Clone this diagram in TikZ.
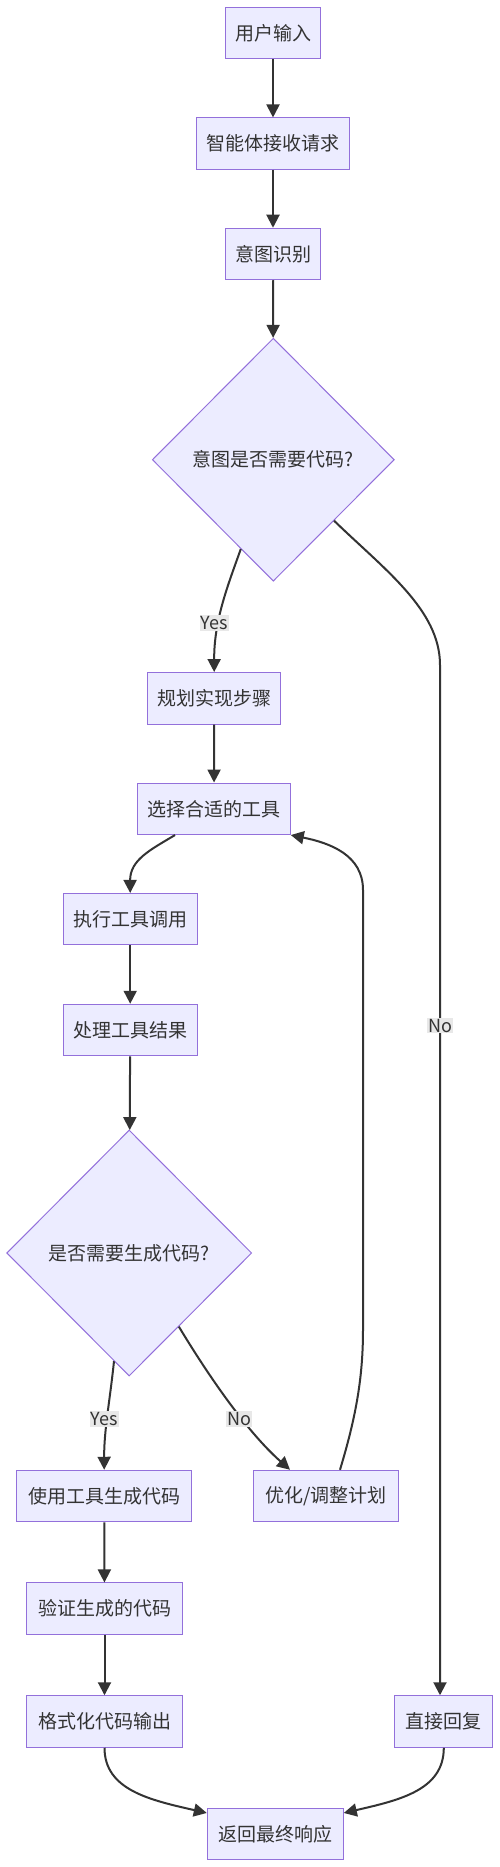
\documentclass[tikz,border=0pt]{standalone}
\usepackage{fontspec}
\setmainfont{Noto Sans CJK SC}
\usetikzlibrary{arrows.meta,shapes.geometric}
\definecolor{boxfill}{HTML}{ECECFF}
\definecolor{boxline}{HTML}{9370DB}
\definecolor{edgec}{HTML}{333333}
\definecolor{txt}{HTML}{333333}
\definecolor{lblbg}{HTML}{E8E8E8}
\begin{document}
\begin{tikzpicture}[x=1pt,y=-1pt,
  box/.style={draw=boxline, fill=boxfill, line width=1pt, minimum height=51.5pt, inner sep=0pt, font=\fontsize{19}{22}\selectfont, text=txt},
  dia/.style={diamond, draw=boxline, fill=boxfill, line width=1pt, inner sep=0pt, font=\fontsize{19}{22}\selectfont, text=txt},
  conn/.style={draw=edgec, line width=2pt, -{Triangle[length=13pt,width=13pt]}},
  lbl/.style={fill=lblbg, text=txt, inner sep=1pt, font=\fontsize{18}{20}\selectfont}]
\useasboundingbox (0,0) rectangle (500,1867);
\fill[white] (0,0) rectangle (500,1867);

\node[box, minimum width=95pt] (u1) at (273,33) {用户输入};
\node[box, minimum width=152.6pt] (u2) at (273,143.7) {智能体接收请求};
\node[box, minimum width=95pt] (u3) at (273,254) {意图识别};
\node[dia, minimum width=242pt, minimum height=243pt] (d1) at (273.3,459.7) {意图是否需要代码?};
\node[box, minimum width=133pt] (p1) at (214.2,698.3) {规划实现步骤};
\node[box, minimum width=152.6pt] (p2) at (214,808.8) {选择合适的工具};
\node[box, minimum width=134.3pt] (p3) at (130.2,919.2) {执行工具调用};
\node[box, minimum width=134.3pt] (p4) at (130.2,1030) {处理工具结果};
\node[dia, minimum width=245pt, minimum height=246pt] (d2) at (129.2,1253) {是否需要生成代码?};
\node[box, minimum width=175pt] (g1) at (104.2,1496) {使用工具生成代码};
\node[box, minimum width=145.4pt] (o1) at (326,1496) {优化/调整计划};
\node[box, minimum width=155.6pt] (g2) at (104.5,1608.7) {验证生成的代码};
\node[box, minimum width=155.6pt] (g3) at (104.5,1721.5) {格式化代码输出};
\node[box, minimum width=97.7pt] (r1) at (443.8,1721.5) {直接回复};
\node[box, minimum width=136pt] (fin) at (275.3,1834.2) {返回最终响应};

\draw[conn] (u1) -- (u2);
\draw[conn] (u2) -- (u3);
\draw[conn] (u3) -- (d1);
\draw[conn] (d1.250.5) .. controls (228,585) and (214,620) .. (p1.north);
\draw[conn] (d1.south east) .. controls (385,570) and (440,610) .. (440,665) -- (r1.north -| 440,0);
\draw[conn] (p1) -- (p2);
\draw[conn] ([xshift=-39pt]p2.south) .. controls (150,850) and (130,860) .. (p3.north);
\draw[conn] (p3) -- (p4);
\draw[conn] (p4) -- (d2);
\draw[conn] (d2.262) .. controls (110,1400) and (104,1430) .. (g1.north);
\draw[conn] (d2.-56) .. controls (205,1370) and (245,1430) .. ([xshift=-36pt]o1.north);
\draw[conn] ([xshift=14pt]o1.north) .. controls (355,1420) and (363,1380) .. (363,1330) -- (363,890) .. controls (363,855) and (330,843) .. (p2.south east);
\draw[conn] (g1) -- (g2);
\draw[conn] (g2) -- (g3);
\draw[conn] (g3.south) .. controls (104.5,1790) and (150,1800) .. ([yshift=-5pt]fin.north west);
\draw[conn] (r1.south) .. controls (443.8,1790) and (400,1800) .. ([yshift=-5pt]fin.north east);

\node[lbl] (l1) at (214.5,623) {Yes};
\node[lbl] (l2) at (440,1025.7) {No};
\node[lbl] (l3) at (104.3,1419) {Yes};
\node[lbl] (l4) at (239.3,1419) {No};
\end{tikzpicture}
\end{document}
